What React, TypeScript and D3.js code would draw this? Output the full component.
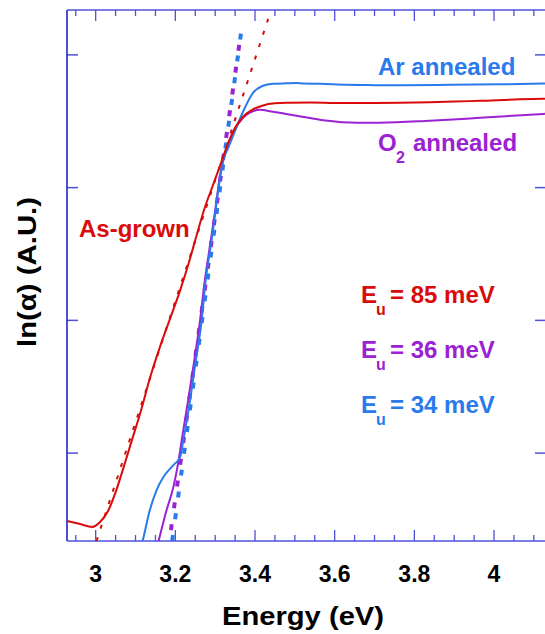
import React from "react";
import * as d3 from "d3";

// ---- data (Energy in eV, ln(alpha) in arbitrary units) ----
const asGrownE = [2.928, 2.961, 2.991, 3.011, 3.031, 3.051, 3.071, 3.091, 3.114, 3.136, 3.161, 3.187, 3.212, 3.234, 3.254, 3.274, 3.294, 3.314, 3.332, 3.350, 3.370, 3.393, 3.418, 3.450, 3.488, 3.540, 3.600, 3.680, 3.764, 3.839, 3.900, 3.965, 4.065, 4.128];
const asGrownV = [0.489, 0.466, 0.444, 0.481, 0.564, 0.714, 0.902, 1.098, 1.323, 1.564, 1.797, 2.015, 2.226, 2.436, 2.647, 2.850, 3.015, 3.180, 3.331, 3.451, 3.534, 3.586, 3.617, 3.635, 3.639, 3.641, 3.638, 3.637, 3.639, 3.643, 3.648, 3.654, 3.665, 3.669];

const arE = [3.118, 3.126, 3.136, 3.153, 3.170, 3.195, 3.212, 3.220, 3.232, 3.249, 3.266, 3.276, 3.291, 3.302, 3.310, 3.320, 3.333, 3.350, 3.371, 3.395, 3.420, 3.445, 3.480, 3.505, 3.520, 3.563, 3.631, 3.700, 3.764, 3.890, 4.015, 4.128];
const arV = [0.338, 0.444, 0.571, 0.722, 0.820, 0.910, 0.970, 1.098, 1.301, 1.647, 2.000, 2.301, 2.602, 2.850, 3.030, 3.203, 3.301, 3.429, 3.579, 3.714, 3.767, 3.782, 3.786, 3.788, 3.784, 3.782, 3.774, 3.772, 3.771, 3.774, 3.778, 3.784];

const o2E = [3.158, 3.178, 3.195, 3.207, 3.216, 3.232, 3.245, 3.262, 3.274, 3.287, 3.300, 3.312, 3.325, 3.345, 3.370, 3.387, 3.412, 3.445, 3.505, 3.571, 3.656, 3.714, 3.839, 3.965, 4.128];
const o2V = [0.338, 0.571, 0.744, 0.925, 1.098, 1.398, 1.647, 2.000, 2.301, 2.564, 2.827, 3.090, 3.263, 3.414, 3.526, 3.564, 3.586, 3.571, 3.541, 3.508, 3.489, 3.489, 3.504, 3.526, 3.556];

// Urbach fit lines (end points)
const fitAsGrownE = [3.002, 3.433];
const fitAsGrownV = [0.338, 4.271];
const fitO2E = [3.185, 3.366];
const fitO2V = [0.338, 4.195];
const fitArE = [3.192, 3.370];
const fitArV = [0.338, 4.278];

const xTickLabels = [3, 3.2, 3.4, 3.6, 3.8, 4];
const yTicks = [1, 2, 3, 4];
const urbachLabels = ["= 85 meV", "= 36 meV", "= 34 meV"];

const RED = "#d90b0b";
const PURPLE = "#9b22d2";
const BLUE = "#2a7aec";
const AXIS = "#2323c8";
const TICK = "#5050dc";
const FONT = "'Liberation Sans', Arial, Helvetica, sans-serif";

export default function App() {
  const W = 545, H = 634;
  const left = 67, right = 546, top = 10, bottom = 541;
  const x = d3.scaleLinear().domain([2.928, 4.1305]).range([left, right]);
  const y = d3.scaleLinear().domain([0.338, 4.338]).range([bottom, top]);

  const line = d3.line<[number, number]>()
    .x((d) => x(d[0]))
    .y((d) => y(d[1]))
    .curve(d3.curveMonotoneX);
  const straight = d3.line<[number, number]>()
    .x((d) => x(d[0]))
    .y((d) => y(d[1]));

  const zip = (a: number[], b: number[]) => a.map((v, i) => [v, b[i]] as [number, number]);

  const minor = d3.range(2.95, 4.13, 0.05).map((v) => Math.round(v * 100) / 100);
  const isMajor = (v: number) => Math.abs(v * 5 - Math.round(v * 5)) < 1e-6;

  const uY = [303, 357.5, 412.5];
  const uColors = [RED, PURPLE, BLUE];

  return (
    <svg width={W} height={H} style={{ position: "absolute", left: 0, top: 0, background: "#fff" }} fontFamily={FONT}>
      <defs>
        <clipPath id="plot">
          <rect x={left} y={top} width={right - left} height={bottom - top} />
        </clipPath>
      </defs>

      {/* ticks */}
      {minor.map((v) => {
        const len = isMajor(v) ? 11 : 6;
        return (
          <g key={"t" + v} stroke={TICK} strokeWidth={1.3}>
            <line x1={x(v)} x2={x(v)} y1={bottom} y2={bottom - len} />
            <line x1={x(v)} x2={x(v)} y1={top} y2={top + len} />
          </g>
        );
      })}
      {yTicks.map((v) => (
        <g key={"y" + v} stroke={TICK} strokeWidth={1.5}>
          <line x1={left} x2={left + 11} y1={y(v)} y2={y(v)} />
          <line x1={right - 11} x2={right} y1={y(v)} y2={y(v)} />
        </g>
      ))}

      {/* frame */}
      <line x1={left} x2={left} y1={top} y2={bottom} stroke={AXIS} strokeWidth={1.6} />
      <line x1={left} x2={right} y1={top} y2={top} stroke={TICK} strokeWidth={1.6} />
      <line x1={left} x2={right} y1={bottom} y2={bottom} stroke={TICK} strokeWidth={1.6} />

      {/* tick labels */}
      {xTickLabels.map((v) => (
        <text key={"l" + v} x={x(v)} y={582} textAnchor="middle" fontSize={23} fontWeight="bold" fill="#000">
          {String(v)}
        </text>
      ))}

      {/* axis titles */}
      <text x={303} y={625} textAnchor="middle" fontSize={25} fontWeight="bold" fill="#000" textLength={162} lengthAdjust="spacingAndGlyphs">
        Energy (eV)
      </text>
      <text transform="translate(36,272) rotate(-90)" textAnchor="middle" fontSize={25} fontWeight="bold" fill="#000" textLength={150} lengthAdjust="spacingAndGlyphs">
        ln(α) (A.U.)
      </text>

      {/* curves */}
      <g clipPath="url(#plot)" fill="none" strokeLinejoin="round">
        <path d={straight(zip(fitAsGrownE, fitAsGrownV)) || ""} stroke={RED} strokeWidth={2} strokeDasharray="4 9" />
        <path d={straight(zip(fitO2E, fitO2V)) || ""} stroke={PURPLE} strokeWidth={4} strokeDasharray="6 16" strokeDashoffset={11} />
        <path d={straight(zip(fitArE, fitArV)) || ""} stroke={BLUE} strokeWidth={4} strokeDasharray="6 16" />
        <path d={line(zip(o2E, o2V)) || ""} stroke={PURPLE} strokeWidth={2} />
        <path d={line(zip(arE, arV)) || ""} stroke={BLUE} strokeWidth={2} />
        <path d={line(zip(asGrownE, asGrownV)) || ""} stroke={RED} strokeWidth={2} />
      </g>

      {/* annotations */}
      <text x={378} y={74.5} fontSize={24} fontWeight="bold" fill={BLUE}>Ar annealed</text>
      <text x={378} y={151} fontSize={24} fontWeight="bold" fill={PURPLE}>O</text>
      <text x={396} y={163} fontSize={16} fontWeight="bold" fill={PURPLE}>2</text>
      <text x={413} y={151} fontSize={24} fontWeight="bold" fill={PURPLE}>annealed</text>
      <text x={79} y={237} fontSize={24} fontWeight="bold" fill={RED}>As-grown</text>

      {urbachLabels.map((t, i) => (
        <g key={t} fill={uColors[i]} fontWeight="bold">
          <text x={361} y={uY[i]} fontSize={24}>E</text>
          <text x={376} y={uY[i] + 12} fontSize={16}>u</text>
          <text x={390} y={uY[i]} fontSize={24}>{t}</text>
        </g>
      ))}
    </svg>
  );
}
